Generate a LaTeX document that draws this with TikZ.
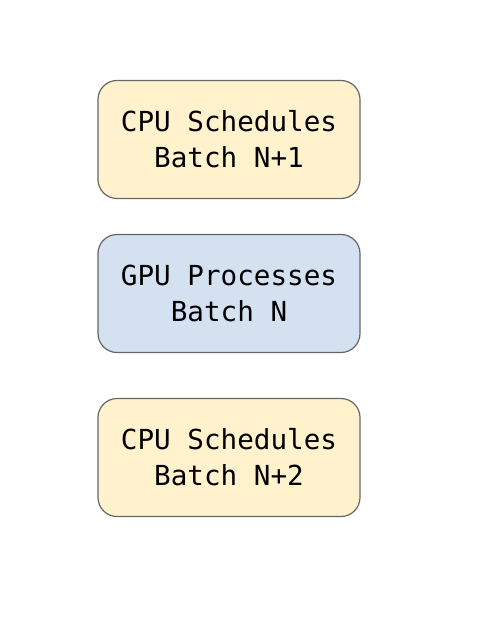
\documentclass[tikz,border=0pt]{standalone}
\usepackage{fontspec}
\setmonofont{DejaVu Sans Mono}
\usepackage{tikz}

\definecolor{cpuyellow}{HTML}{FFF2CC}
\definecolor{gpublue}{HTML}{D4E1F1}
\definecolor{boxline}{HTML}{666666}

\begin{document}
\begin{tikzpicture}[x=1pt,y=-1pt,
        batch/.style={shape=rectangle,rounded corners=19pt,draw=boxline,line width=1.2pt,
                minimum width=262pt,minimum height=118pt,align=center,
                font=\ttfamily\fontsize{27.6}{36}\selectfont}]
        \useasboundingbox (0,0) rectangle (480,628);
        \node[batch,fill=cpuyellow] (cpu1) at (229, 139.5)     {CPU Schedules\\Batch N+1};
        \node[batch,fill=gpublue]   (gpu)  at (229, 293.5)     {GPU Processes\\Batch N};
        \node[batch,fill=cpuyellow] (cpu2) at (229, 457.5)     {CPU Schedules\\Batch N+2};
\end{tikzpicture}
\end{document}
